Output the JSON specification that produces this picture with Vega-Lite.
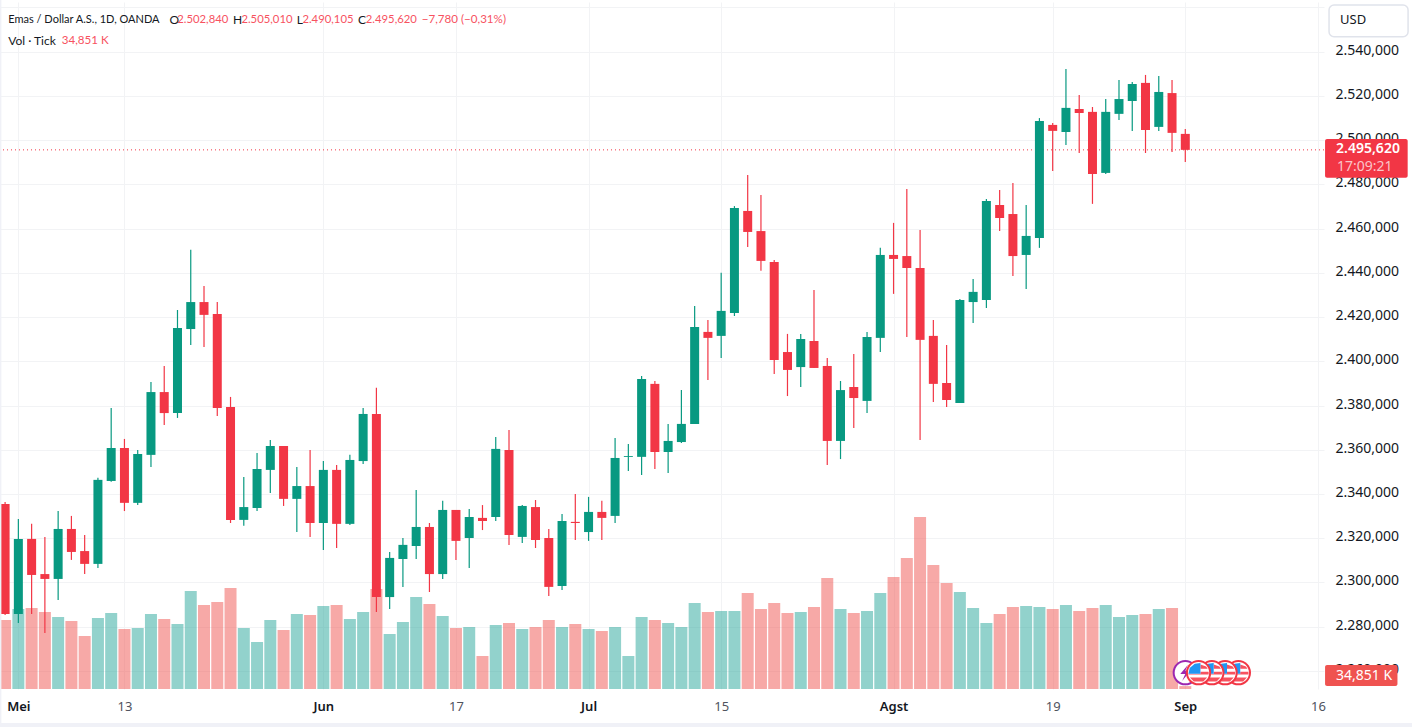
{
  "$schema": "https://vega.github.io/schema/vega-lite/v5.json",
  "autosize": "none",
  "width": 1324,
  "height": 687,
  "padding": {"left": 0, "top": 2, "right": 88, "bottom": 38},
  "background": "#ffffff",
  "config": {"font": "Noto Sans", "view": {"stroke": null}},
  "data": {"values": [{}]},
  "datasets": {
    "candles": [
      {"day":0,"o":2335.5,"h":2336.4,"l":2285.3,"c":2285.8,"vol":828},
      {"day":1,"o":2285.8,"h":2328.7,"l":2281.7,"c":2319.7,"vol":960},
      {"day":2,"o":2319.7,"h":2326.5,"l":2285.8,"c":2303.4,"vol":972},
      {"day":3,"o":2303.8,"h":2320.6,"l":2277.2,"c":2301.6,"vol":924},
      {"day":4,"o":2301.6,"h":2332.3,"l":2292.1,"c":2324.2,"vol":864},
      {"day":5,"o":2324.2,"h":2330.1,"l":2310.2,"c":2313.8,"vol":816},
      {"day":6,"o":2314.2,"h":2321.5,"l":2303.8,"c":2308.4,"vol":636},
      {"day":7,"o":2308.4,"h":2347.3,"l":2306.6,"c":2346.4,"vol":852},
      {"day":8,"o":2345.9,"h":2378.9,"l":2345.5,"c":2360.8,"vol":912},
      {"day":9,"o":2360.8,"h":2364.9,"l":2332.3,"c":2336.0,"vol":720},
      {"day":10,"o":2336.0,"h":2359.9,"l":2335.0,"c":2358.1,"vol":732},
      {"day":11,"o":2357.7,"h":2390.7,"l":2352.2,"c":2386.1,"vol":900},
      {"day":12,"o":2386.1,"h":2397.9,"l":2371.2,"c":2376.6,"vol":840},
      {"day":13,"o":2376.6,"h":2423.2,"l":2374.4,"c":2415.1,"vol":780},
      {"day":14,"o":2414.6,"h":2450.4,"l":2407.4,"c":2426.8,"vol":1176},
      {"day":15,"o":2426.8,"h":2434.1,"l":2406.5,"c":2421.0,"vol":1008},
      {"day":16,"o":2421.4,"h":2426.8,"l":2375.3,"c":2378.9,"vol":1044},
      {"day":17,"o":2379.4,"h":2383.9,"l":2326.9,"c":2328.3,"vol":1212},
      {"day":18,"o":2328.3,"h":2347.7,"l":2325.6,"c":2334.1,"vol":732},
      {"day":19,"o":2333.7,"h":2358.6,"l":2332.3,"c":2351.3,"vol":564},
      {"day":20,"o":2350.9,"h":2364.4,"l":2340.5,"c":2361.7,"vol":828},
      {"day":21,"o":2361.7,"h":2361.7,"l":2334.6,"c":2337.8,"vol":708},
      {"day":22,"o":2337.8,"h":2352.2,"l":2322.8,"c":2343.6,"vol":900},
      {"day":23,"o":2343.6,"h":2359.9,"l":2320.6,"c":2326.9,"vol":888},
      {"day":24,"o":2326.9,"h":2354.9,"l":2314.7,"c":2350.9,"vol":996},
      {"day":25,"o":2350.9,"h":2353.1,"l":2315.6,"c":2326.5,"vol":1008},
      {"day":26,"o":2326.5,"h":2357.7,"l":2326.0,"c":2355.4,"vol":840},
      {"day":27,"o":2354.9,"h":2378.9,"l":2353.6,"c":2376.2,"vol":924},
      {"day":28,"o":2376.2,"h":2388.0,"l":2286.7,"c":2293.4,"vol":1200},
      {"day":29,"o":2293.4,"h":2313.8,"l":2288.0,"c":2311.1,"vol":660},
      {"day":30,"o":2310.6,"h":2320.1,"l":2298.0,"c":2317.0,"vol":804},
      {"day":31,"o":2316.5,"h":2341.8,"l":2310.6,"c":2325.1,"vol":1104},
      {"day":32,"o":2325.1,"h":2326.9,"l":2295.7,"c":2303.8,"vol":1020},
      {"day":33,"o":2303.8,"h":2336.9,"l":2301.6,"c":2332.8,"vol":876},
      {"day":34,"o":2332.8,"h":2332.8,"l":2310.2,"c":2318.8,"vol":732},
      {"day":35,"o":2320.1,"h":2333.2,"l":2306.6,"c":2329.6,"vol":744},
      {"day":36,"o":2329.2,"h":2335.0,"l":2323.7,"c":2327.8,"vol":396},
      {"day":37,"o":2329.6,"h":2365.8,"l":2327.8,"c":2360.4,"vol":768},
      {"day":38,"o":2359.9,"h":2369.0,"l":2317.0,"c":2321.5,"vol":792},
      {"day":39,"o":2320.6,"h":2335.0,"l":2317.9,"c":2334.6,"vol":720},
      {"day":40,"o":2334.1,"h":2337.3,"l":2315.6,"c":2319.2,"vol":744},
      {"day":41,"o":2320.1,"h":2324.2,"l":2293.9,"c":2298.0,"vol":828},
      {"day":42,"o":2298.4,"h":2331.0,"l":2296.6,"c":2327.8,"vol":744},
      {"day":43,"o":2327.4,"h":2340.0,"l":2319.2,"c":2326.9,"vol":780},
      {"day":44,"o":2322.8,"h":2338.7,"l":2318.8,"c":2331.9,"vol":720},
      {"day":45,"o":2331.9,"h":2336.9,"l":2319.2,"c":2329.2,"vol":696},
      {"day":46,"o":2330.1,"h":2365.3,"l":2326.9,"c":2356.3,"vol":744},
      {"day":47,"o":2356.8,"h":2362.6,"l":2350.4,"c":2357.2,"vol":396},
      {"day":48,"o":2356.8,"h":2393.4,"l":2348.6,"c":2392.0,"vol":864},
      {"day":49,"o":2389.8,"h":2391.1,"l":2351.3,"c":2359.0,"vol":828},
      {"day":50,"o":2359.0,"h":2371.7,"l":2349.5,"c":2364.0,"vol":792},
      {"day":51,"o":2363.5,"h":2387.0,"l":2363.1,"c":2371.7,"vol":744},
      {"day":52,"o":2371.7,"h":2425.0,"l":2371.7,"c":2415.5,"vol":1032},
      {"day":53,"o":2413.3,"h":2418.7,"l":2391.6,"c":2410.6,"vol":924},
      {"day":54,"o":2411.5,"h":2440.0,"l":2401.5,"c":2422.8,"vol":936},
      {"day":55,"o":2421.9,"h":2470.2,"l":2420.5,"c":2469.3,"vol":936},
      {"day":56,"o":2468.0,"h":2484.3,"l":2451.7,"c":2458.5,"vol":1152},
      {"day":57,"o":2458.9,"h":2475.2,"l":2440.9,"c":2445.4,"vol":960},
      {"day":58,"o":2444.9,"h":2445.8,"l":2394.3,"c":2400.6,"vol":1032},
      {"day":59,"o":2404.2,"h":2412.4,"l":2384.3,"c":2396.1,"vol":912},
      {"day":60,"o":2397.4,"h":2412.4,"l":2388.4,"c":2410.1,"vol":924},
      {"day":61,"o":2409.2,"h":2432.3,"l":2397.0,"c":2397.0,"vol":984},
      {"day":62,"o":2397.9,"h":2401.5,"l":2353.1,"c":2364.0,"vol":1332},
      {"day":63,"o":2364.0,"h":2391.1,"l":2355.8,"c":2387.0,"vol":960},
      {"day":64,"o":2388.4,"h":2403.3,"l":2369.9,"c":2383.4,"vol":912},
      {"day":65,"o":2382.1,"h":2413.3,"l":2376.6,"c":2411.0,"vol":936},
      {"day":66,"o":2410.6,"h":2451.3,"l":2404.2,"c":2448.1,"vol":1152},
      {"day":67,"o":2448.1,"h":2462.6,"l":2430.5,"c":2446.3,"vol":1344},
      {"day":68,"o":2447.6,"h":2477.9,"l":2411.0,"c":2442.2,"vol":1572},
      {"day":69,"o":2442.2,"h":2459.4,"l":2364.4,"c":2409.7,"vol":2064},
      {"day":70,"o":2411.5,"h":2418.7,"l":2381.6,"c":2389.8,"vol":1488},
      {"day":71,"o":2390.2,"h":2407.4,"l":2379.4,"c":2382.5,"vol":1272},
      {"day":72,"o":2381.2,"h":2428.2,"l":2381.2,"c":2427.7,"vol":1164},
      {"day":73,"o":2426.8,"h":2437.2,"l":2417.3,"c":2431.4,"vol":972},
      {"day":74,"o":2427.7,"h":2473.4,"l":2424.1,"c":2472.5,"vol":792},
      {"day":75,"o":2470.7,"h":2477.5,"l":2458.9,"c":2464.8,"vol":900},
      {"day":76,"o":2466.6,"h":2480.6,"l":2438.6,"c":2447.6,"vol":984},
      {"day":77,"o":2448.1,"h":2470.7,"l":2432.7,"c":2456.7,"vol":996},
      {"day":78,"o":2455.8,"h":2510.0,"l":2451.3,"c":2508.7,"vol":984},
      {"day":79,"o":2506.9,"h":2507.8,"l":2486.1,"c":2504.2,"vol":960},
      {"day":80,"o":2503.7,"h":2532.2,"l":2497.8,"c":2514.6,"vol":1008},
      {"day":81,"o":2514.1,"h":2520.4,"l":2494.2,"c":2512.3,"vol":936},
      {"day":82,"o":2512.8,"h":2515.0,"l":2471.2,"c":2484.7,"vol":972},
      {"day":83,"o":2485.2,"h":2518.6,"l":2484.7,"c":2512.8,"vol":1008},
      {"day":84,"o":2511.9,"h":2527.2,"l":2509.1,"c":2518.6,"vol":864},
      {"day":85,"o":2517.7,"h":2526.3,"l":2504.2,"c":2525.4,"vol":888},
      {"day":86,"o":2525.9,"h":2529.5,"l":2494.2,"c":2504.6,"vol":900},
      {"day":87,"o":2506.0,"h":2529.0,"l":2504.2,"c":2521.8,"vol":960},
      {"day":88,"o":2521.3,"h":2527.2,"l":2494.7,"c":2503.3,"vol":972},
      {"day":89,"o":2502.84,"h":2505.01,"l":2490.105,"c":2495.62,"vol":34.851}
    ],
    "events": [
      {"day":89,"part":"ringP"},{"day":89,"part":"disc"},{"day":89,"part":"bolt"},
      {"day":93,"part":"ring"},{"day":93,"part":"disc"},{"day":93,"part":"stripes"},{"day":93,"part":"canton"},
      {"day":92,"part":"ring"},{"day":92,"part":"disc"},{"day":92,"part":"stripes"},{"day":92,"part":"canton"},
      {"day":91,"part":"ring"},{"day":91,"part":"disc"},{"day":91,"part":"stripes"},{"day":91,"part":"canton"},
      {"day":90,"part":"ring"},{"day":90,"part":"disc"},{"day":90,"part":"stripes"},{"day":90,"part":"canton"}
    ]
  },
  "resolve": {"scale": {"y": "independent"}},
  "layer": [
    {
      "data": {"name": "candles"},
      "mark": {"type": "bar", "width": 12, "orient": "vertical", "opacity": 0.5},
      "encoding": {
        "x": {
          "field": "day",
          "type": "quantitative",
          "scale": {"domain": [-0.3846, 99.46], "nice": false, "zero": false, "padding": 0},
          "axis": {
            "title": null,
            "grid": true,
            "gridColor": "#F2F3F5",
            "ticks": false,
            "domain": false,
            "values": [1, 9, 24, 34, 44, 54, 67, 79, 89, 99],
            "labelExpr": "{'1':'Mei','9':'13','24':'Jun','34':'17','44':'Jul','54':'15','67':'Agst','79':'19','89':'Sep','99':'16'}[datum.value]",
            "labelFontSize": 13,
            "labelPadding": 11,
            "labelOverlap": false,
            "labelFlush": false,
            "labelColor": {"condition": {"test": "indexof([1,24,44,67,89],datum.value)>=0", "value": "#131722"}, "value": "#50535E"},
            "labelFontWeight": {"condition": {"test": "indexof([1,24,44,67,89],datum.value)>=0", "value": 600}, "value": 400}
          }
        },
        "y": {"field": "vol", "type": "quantitative", "scale": {"domain": [0, 8244], "nice": false}, "axis": null},
        "color": {"condition": {"test": "datum.c < datum.o", "value": "#EF5350"}, "value": "#26A69A"}
      }
    },
    {
      "layer": [
        {
          "mark": {"type": "rule", "color": "#F23645", "strokeDash": [1, 3], "strokeWidth": 1},
          "encoding": {
            "y": {
              "datum": 2495.62,
              "type": "quantitative",
              "scale": {"domain": [2251.83, 2562.48], "nice": false, "zero": false},
              "axis": {
                "orient": "right",
                "title": null,
                "grid": true,
                "gridColor": "#F2F3F5",
                "ticks": false,
                "domain": false,
                "values": [2260, 2280, 2300, 2320, 2340, 2360, 2380, 2400, 2420, 2440, 2460, 2480, 2500, 2520, 2540, 2560],
                "labelExpr": "datum.value > 2550 ? '' : format(datum.value / 1000, '.3f') + ',000'",
                "labelFontSize": 14,
                "labelColor": "#131722",
                "labelPadding": 11,
                "labelOffset": -1.5,
                "labelOverlap": false,
                "labelFlush": false
              }
            }
          }
        },
        {
          "data": {"name": "candles"},
          "mark": {"type": "rule", "strokeWidth": 1.2},
          "encoding": {
            "x": {"field": "day", "type": "quantitative"},
            "y": {"field": "h", "type": "quantitative"},
            "y2": {"field": "l"},
            "color": {"condition": {"test": "datum.c < datum.o", "value": "#F23645"}, "value": "#089981"}
          }
        },
        {
          "data": {"name": "candles"},
          "mark": {"type": "bar", "width": 9, "orient": "vertical"},
          "encoding": {
            "x": {"field": "day", "type": "quantitative"},
            "y": {"field": "o", "type": "quantitative"},
            "y2": {"field": "c"},
            "color": {"condition": {"test": "datum.c < datum.o", "value": "#F23645"}, "value": "#089981"}
          }
        },
        {
          "data": {"name": "events"},
          "mark": {"type": "point", "filled": true, "size": 640, "opacity": 1, "strokeWidth": 0},
          "encoding": {
            "x": {"field": "day", "type": "quantitative"},
            "y": {"datum": 2259.2, "type": "quantitative"},
            "shape": {
              "field": "part",
              "type": "nominal",
              "legend": null,
              "scale": {
                "domain": ["ringP", "ring", "disc", "bolt", "stripes", "canton"],
                "range": [
                  "M-1,0A1,1 0 1,1 1,0A1,1 0 1,1 -1,0Z",
                  "M-1,0A1,1 0 1,1 1,0A1,1 0 1,1 -1,0Z",
                  "M-.84,0A.84,.84 0 1,1 .84,0A.84,.84 0 1,1 -.84,0Z",
                  "M.2,-.6L-.4,.1L0,.1L-.25,.65L.4,-.15L0,-.15Z",
                  "M.15,-.65L.6,-.5L.72,-.32L.15,-.32ZM.15,-.08L.8,-.08L.8,.15L-.8,.15L-.8,.08L.15,.08ZM-.68,.38L.68,.38L.38,.7L-.38,.7Z",
                  "M-.7,-.38L-.3,-.7L.15,-.76L.15,.08L-.8,.08Z"
                ]
              }
            },
            "color": {
              "field": "part",
              "type": "nominal",
              "legend": null,
              "scale": {
                "domain": ["ringP", "ring", "disc", "bolt", "stripes", "canton"],
                "range": ["#9C27B0", "#F23645", "#FFFFFF", "#9C27B0", "#F7525F", "#2196F3"]
              }
            }
          }
        },
        {
          "mark": {"type": "rect", "color": "#FFFFFF", "stroke": "#E0E3EB", "cornerRadius": 5, "strokeWidth": 1.5},
          "encoding": {
            "x": {"datum": 99.84, "type": "quantitative"},
            "x2": {"datum": 105.8},
            "y": {"datum": 2561.1, "type": "quantitative"},
            "y2": {"datum": 2546.8}
          }
        },
        {
          "mark": {"type": "rect", "color": "#F23645", "cornerRadius": 2},
          "encoding": {
            "x": {"datum": 99.54, "type": "quantitative"},
            "x2": {"datum": 105.77},
            "y": {"datum": 2500.53, "type": "quantitative"},
            "y2": {"datum": 2483.03}
          }
        },
        {
          "mark": {"type": "rect", "color": "#EF5350", "cornerRadius": 2},
          "encoding": {
            "x": {"datum": 99.54, "type": "quantitative"},
            "x2": {"datum": 105.0},
            "y": {"datum": 2262.7, "type": "quantitative"},
            "y2": {"datum": 2253.2}
          }
        },
        {
          "mark": {"type": "rect", "color": "#F0F1F7"},
          "encoding": {
            "x": {"datum": -0.3846, "type": "quantitative"},
            "x2": {"datum": 106.1},
            "y": {"datum": 2236.4, "type": "quantitative"},
            "y2": {"datum": 2234.6}
          }
        },
        {
          "mark": {"type": "rect", "color": "#F0F1F7"},
          "encoding": {
            "x": {"datum": -0.3846, "type": "quantitative"},
            "x2": {"datum": -0.28},
            "y": {"datum": 2563.38, "type": "quantitative"},
            "y2": {"datum": 2234.6}
          }
        },
        {
          "mark": {"type": "text", "align": "left", "font": "Lato", "fontSize": 11, "color": "#131722"},
          "encoding": {
            "x": {"datum": 0.24, "type": "quantitative"},
            "y": {"datum": 2554.34, "type": "quantitative"},
            "text": {"value": "Emas / Dollar A.S., 1D, OANDA"}
          }
        },
        {
          "mark": {"type": "text", "align": "left", "font": "Lato", "fontSize": 12, "color": "#131722"},
          "encoding": {
            "x": {"datum": 12.4, "type": "quantitative"},
            "y": {"datum": 2554.34, "type": "quantitative"},
            "text": {"value": "O"}
          }
        },
        {
          "mark": {"type": "text", "align": "left", "font": "Lato", "fontSize": 11.3, "color": "#F7525F"},
          "encoding": {
            "x": {"datum": 12.98, "type": "quantitative"},
            "y": {"datum": 2554.34, "type": "quantitative"},
            "text": {"value": "2.502,840"}
          }
        },
        {
          "mark": {"type": "text", "align": "left", "font": "Lato", "fontSize": 12, "color": "#131722"},
          "encoding": {
            "x": {"datum": 17.19, "type": "quantitative"},
            "y": {"datum": 2554.34, "type": "quantitative"},
            "text": {"value": "H"}
          }
        },
        {
          "mark": {"type": "text", "align": "left", "font": "Lato", "fontSize": 11.3, "color": "#F7525F"},
          "encoding": {
            "x": {"datum": 17.82, "type": "quantitative"},
            "y": {"datum": 2554.34, "type": "quantitative"},
            "text": {"value": "2.505,010"}
          }
        },
        {
          "mark": {"type": "text", "align": "left", "font": "Lato", "fontSize": 12, "color": "#131722"},
          "encoding": {
            "x": {"datum": 21.99, "type": "quantitative"},
            "y": {"datum": 2554.34, "type": "quantitative"},
            "text": {"value": "L"}
          }
        },
        {
          "mark": {"type": "text", "align": "left", "font": "Lato", "fontSize": 11.3, "color": "#F7525F"},
          "encoding": {
            "x": {"datum": 22.42, "type": "quantitative"},
            "y": {"datum": 2554.34, "type": "quantitative"},
            "text": {"value": "2.490,105"}
          }
        },
        {
          "mark": {"type": "text", "align": "left", "font": "Lato", "fontSize": 12, "color": "#131722"},
          "encoding": {
            "x": {"datum": 26.61, "type": "quantitative"},
            "y": {"datum": 2554.34, "type": "quantitative"},
            "text": {"value": "C"}
          }
        },
        {
          "mark": {"type": "text", "align": "left", "font": "Lato", "fontSize": 11.3, "color": "#F7525F"},
          "encoding": {
            "x": {"datum": 27.2, "type": "quantitative"},
            "y": {"datum": 2554.34, "type": "quantitative"},
            "text": {"value": "2.495,620"}
          }
        },
        {
          "mark": {"type": "text", "align": "left", "font": "Lato", "fontSize": 11.6, "color": "#F7525F"},
          "encoding": {
            "x": {"datum": 31.42, "type": "quantitative"},
            "y": {"datum": 2554.34, "type": "quantitative"},
            "text": {"value": "−7,780 (−0,31%)"}
          }
        },
        {
          "mark": {"type": "text", "align": "left", "font": "Lato", "fontSize": 12, "color": "#131722"},
          "encoding": {
            "x": {"datum": 0.24, "type": "quantitative"},
            "y": {"datum": 2544.84, "type": "quantitative"},
            "text": {"value": "Vol · Tick"}
          }
        },
        {
          "mark": {"type": "text", "align": "left", "font": "Lato", "fontSize": 11.6, "color": "#F7525F"},
          "encoding": {
            "x": {"datum": 4.27, "type": "quantitative"},
            "y": {"datum": 2544.84, "type": "quantitative"},
            "text": {"value": "34,851 K"}
          }
        },
        {
          "mark": {"type": "text", "align": "left", "fontSize": 13, "color": "#131722"},
          "encoding": {
            "x": {"datum": 100.67, "type": "quantitative"},
            "y": {"datum": 2554.34, "type": "quantitative"},
            "text": {"value": "USD"}
          }
        },
        {
          "mark": {"type": "text", "align": "left", "fontSize": 14, "fontWeight": 600, "color": "#FFFFFF"},
          "encoding": {
            "x": {"datum": 100.37, "type": "quantitative"},
            "y": {"datum": 2496.0, "type": "quantitative"},
            "text": {"value": "2.495,620"}
          }
        },
        {
          "mark": {"type": "text", "align": "left", "fontSize": 14, "color": "#FBC4C8"},
          "encoding": {
            "x": {"datum": 100.44, "type": "quantitative"},
            "y": {"datum": 2487.9, "type": "quantitative"},
            "text": {"value": "17:09:21"}
          }
        },
        {
          "mark": {"type": "text", "align": "left", "fontSize": 14, "color": "#FFFFFF"},
          "encoding": {
            "x": {"datum": 100.37, "type": "quantitative"},
            "y": {"datum": 2257.9, "type": "quantitative"},
            "text": {"value": "34,851 K"}
          }
        }
      ]
    }
  ]
}
